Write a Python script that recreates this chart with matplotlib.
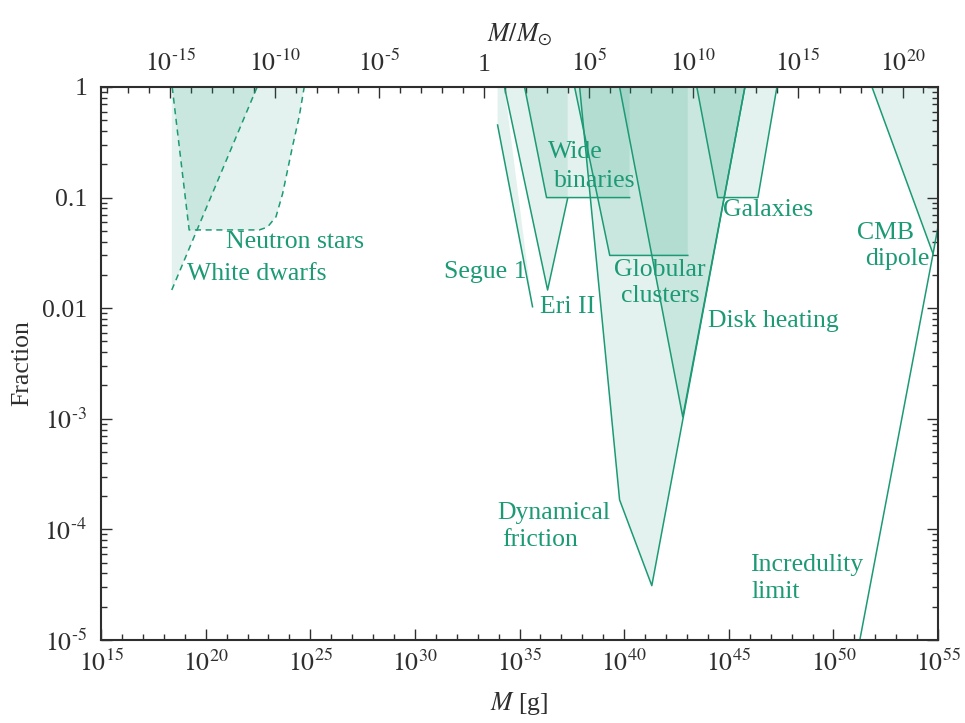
import numpy as np
import matplotlib.pyplot as plt

plt.rcParams['font.family'] = ['Liberation Serif', 'DejaVu Serif']
plt.rcParams['mathtext.fontset'] = 'stix'

teal = '#1c9a75'
axis_grey = '#2e2e2e'
msun = 2e33  # grams

# constraint regions: log10(M / g) and fraction f at the polygon vertices
wd_logm = [18.38, 18.38, 22.46]
wd_f = [1.0, 0.0146, 1.0]

ns_logm = [18.40, 19.21, 22.56, 22.95, 23.36, 23.68, 24.15, 24.47, 24.71]
ns_f = [1.0, 0.051, 0.051, 0.054, 0.067, 0.109, 0.29, 0.54, 1.0]

segue_logm = [33.95, 33.95, 35.62, 34.28]
segue_f = [1.0, 0.453, 0.0103, 1.0]

eri_logm = [34.28, 36.34, 37.30, 37.30]
eri_f = [1.0, 0.0146, 0.099, 1.0]

wide_logm = [35.24, 36.29, 40.26, 40.26]
wide_f = [1.0, 0.1, 0.1, 1.0]

gc_logm = [37.63, 39.31, 43.04, 43.04]
gc_f = [1.0, 0.03, 0.03, 1.0]

dynf_logm = [37.87, 39.78, 41.32, 45.77]
dynf_f = [1.0, 1.85e-4, 3.1e-5, 1.0]

disk_logm = [39.78, 42.80, 45.77]
disk_f = [1.0, 1.04e-3, 1.0]

gal_logm = [43.47, 44.47, 46.39, 47.30]
gal_f = [1.0, 0.1, 0.1, 1.0]

cmb_logm = [51.84, 54.76, 55.0, 55.0]
cmb_f = [1.0, 0.031, 0.055, 1.0]

incred_logm = [51.26, 54.76, 55.0]
incred_f = [1e-5, 0.031, 0.055]

x_ticks = [15, 20, 25, 30, 35, 40, 45, 50, 55]
top_ticks = [-15, -10, -5, 0, 5, 10, 15, 20]
y_ticks = [-5, -4, -3, -2, -1, 0]


def pow_label(k):
    # superscript with a short hyphen rather than a long minus sign
    if k < 0:
        return '$10^{\\text{-}%d}$' % -k
    return '$10^{%d}$' % k


y_labels = [pow_label(-5), pow_label(-4), pow_label(-3), '0.01', '0.1', '1']

# (logm, f, which vertices carry an outline, linestyle)
regions = [
    (wd_logm, wd_f, [1, 2], (0, (4, 3))),
    (ns_logm, ns_f, list(range(len(ns_logm))), (0, (4, 3))),
    (segue_logm, segue_f, [1, 2], '-'),
    (eri_logm, eri_f, [0, 1, 2], '-'),
    (wide_logm, wide_f, [0, 1, 2], '-'),
    (gc_logm, gc_f, [0, 1, 2], '-'),
    (dynf_logm, dynf_f, [0, 1, 2, 3], '-'),
    (disk_logm, disk_f, [0, 1, 2], '-'),
    (gal_logm, gal_f, [0, 1, 2, 3], '-'),
    (cmb_logm, cmb_f, [0, 1], '-'),
]

fig = plt.figure(figsize=(9.65, 7.23), dpi=100)
ax = fig.add_axes([0.1047, 0.1148, 0.8674, 0.7649])
ax.set_xscale('log')
ax.set_yscale('log')

for logm, f, edge, ls in regions:
    m = 10.0 ** np.array(logm)
    ax.fill(m, f, color=teal, alpha=0.12, lw=0, zorder=1)
    ax.plot(m[edge], np.array(f)[edge], color=teal, lw=1.1, ls=ls, zorder=2)

ax.plot(10.0 ** np.array(incred_logm), incred_f, color=teal, lw=1.1, zorder=2)

ax.set_xlim(1e15, 1e55)
ax.set_ylim(1e-5, 1)

fs = 18.5
ax.set_xticks([10.0 ** k for k in x_ticks])
ax.set_xticklabels([pow_label(k) for k in x_ticks])
ax.set_xticks([10.0 ** k for k in range(15, 56)], minor=True)
ax.set_xticklabels([], minor=True)
ax.set_yticks([10.0 ** k for k in y_ticks])
ax.set_yticklabels(y_labels)
ax.yaxis.set_minor_locator(plt.matplotlib.ticker.LogLocator(subs=np.arange(2, 10)))
ax.yaxis.set_minor_formatter(plt.NullFormatter())

ax.tick_params(which='both', direction='in', top=False, right=True,
               colors=axis_grey, labelsize=fs, width=1.0)
ax.tick_params(which='major', length=8)
ax.tick_params(which='minor', length=4)
ax.tick_params(axis='x', pad=7)
ax.tick_params(axis='y', pad=10)
for s in ax.spines.values():
    s.set_color(axis_grey)
    s.set_linewidth(1.5)

sec = ax.secondary_xaxis('top', functions=(lambda m: m / msun, lambda s: s * msun))
sec.set_xticks([10.0 ** k for k in top_ticks])
sec.set_xticklabels(['1' if k == 0 else pow_label(k) for k in top_ticks])
sec.set_xticks([10.0 ** k for k in range(-18, 22)], minor=True)
sec.set_xticklabels([], minor=True)
sec.tick_params(which='both', direction='in', colors=axis_grey, labelsize=fs,
                width=1.0, pad=8)
sec.tick_params(which='major', length=8)
sec.tick_params(which='minor', length=4)
sec.spines['top'].set_visible(False)
sec.set_xlabel('$M/M_{\\odot}$', fontsize=fs, color=axis_grey, labelpad=6)

ax.set_xlabel('$M$ [g]', fontsize=fs, color=axis_grey, labelpad=10)
ax.set_ylabel('Fraction', fontsize=fs, color=axis_grey, labelpad=6)

# region labels: (text, log10 M, f, horizontal alignment)
labels = [
    ('Neutron stars', 20.98, 0.0397, 'left'),
    ('White dwarfs', 19.11, 0.0204, 'left'),
    ('Segue 1', 35.33, 0.0212, 'right'),
    ('Eri II', 35.96, 0.0103, 'left'),
    ('Wide', 36.34, 0.258, 'left'),
    ('binaries', 36.63, 0.141, 'left'),
    ('Globular', 41.70, 0.0221, 'center'),
    ('clusters', 41.70, 0.0129, 'center'),
    ('Galaxies', 44.71, 0.0773, 'left'),
    ('Disk heating', 43.99, 0.00766, 'left'),
    ('CMB', 52.51, 0.0479, 'center'),
    ('dipole', 53.04, 0.0279, 'center'),
    ('Dynamical', 33.95, 1.41e-4, 'left'),
    ('friction', 34.19, 8.0e-5, 'left'),
    ('Incredulity', 46.0, 4.77e-5, 'left'),
    ('limit', 46.1, 2.72e-5, 'left'),
]
for txt, lm, f, ha in labels:
    ax.text(10.0 ** lm, f, txt, color=teal, fontsize=fs, ha=ha, va='center', zorder=3)

fig.savefig('out.png', dpi=100)
